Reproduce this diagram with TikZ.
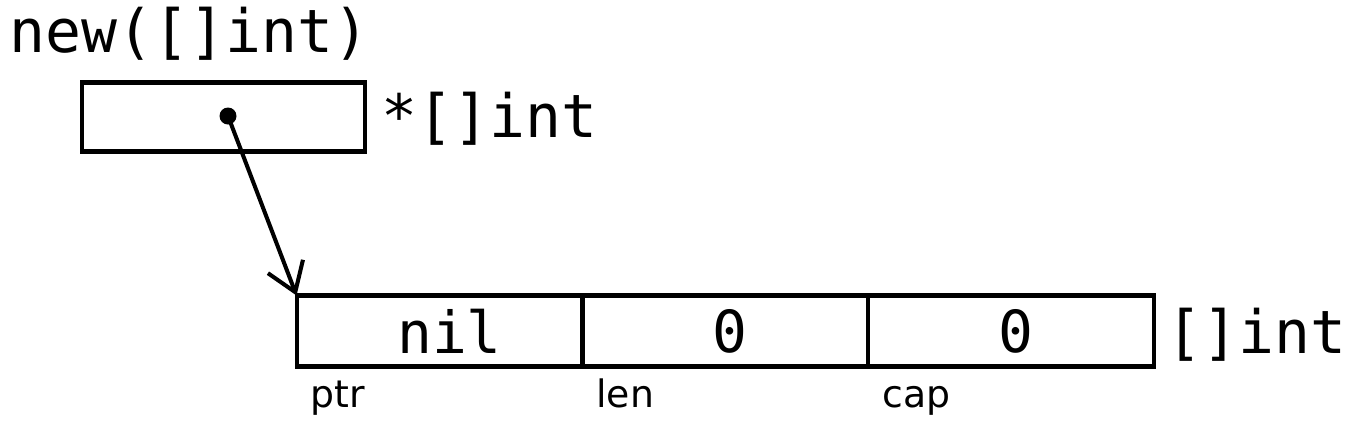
\documentclass[tikz,border=0pt]{standalone}
\usepackage{fontspec}
\setmonofont{DejaVu Sans Mono}
\setsansfont{DejaVu Sans}
\usetikzlibrary{positioning, arrows.meta}

\begin{document}
\begin{tikzpicture}[
	x=0.02cm, y=-0.02cm,
	cell/.style={
		rectangle,
		draw=black,
		line width=2.3pt,
		minimum width=5.72cm,
		minimum height=1.42cm,
		inner sep=0pt,
		outer sep=0pt,
		font=\fontsize{33}{38}\selectfont\ttfamily
	},
	code/.style={
		inner sep=0pt,
		anchor=base west,
		font=\fontsize{34}{39}\selectfont\ttfamily
	},
	field/.style={
		inner sep=0pt,
		anchor=base west,
		font=\fontsize{21.5}{25}\selectfont\sffamily
	},
	pointer/.style={
		-{Straight Barb[length=0.55cm, width=0.75cm, line width=2.3pt]},
		line width=2.3pt
	}
	]
	\useasboundingbox (0,0) rectangle (1372,424);
	\node[code] (newexpr) at (9,52) {new([]int)};
	\node[cell, minimum width=5.66cm, minimum height=1.38cm] (pbox) at (223.5,117) {};
	\node[code] (ptype) at (381,137) {*[]int};
	\node[circle, fill=black, inner sep=0pt, minimum size=0.34cm] (dot) at (228,116) {};
	\node[cell] (ptrcell) at (439.5,331) {\hspace{0.4cm}nil};
	\node[cell, right=0pt of ptrcell] (lencell) {\hspace{0.2cm}0};
	\node[cell, right=0pt of lencell] (capcell) {\hspace{0.2cm}0};
	\node[code] (stype) at (1166,353) {[]int};
	\node[field] (ptrlbl) at (310,407) {ptr};
	\node[field] (lenlbl) at (596,407) {len};
	\node[field] (caplbl) at (882,407) {cap};
	\draw[pointer] (dot.center) -- (ptrcell.north west);
\end{tikzpicture}
\end{document}
